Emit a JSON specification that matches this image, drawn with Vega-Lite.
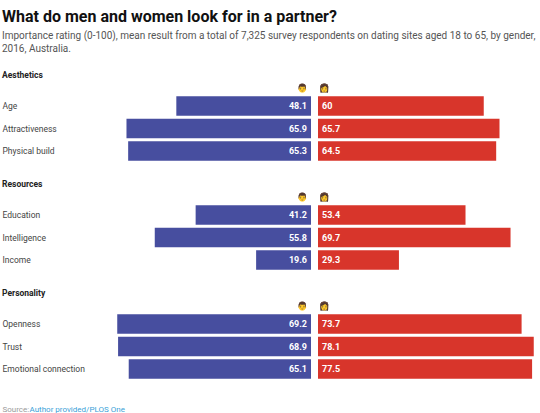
{
  "$schema": "https://vega.github.io/schema/vega-lite/v6.json",
  "background": "white",
  "padding": {"left": 2, "top": 8, "right": 0, "bottom": 0},
  "title": {
    "text": "What do men and women look for in a partner?",
    "subtitle": [
      "Importance rating (0-100), mean result from a total of 7,325 survey respondents on dating sites aged 18 to 65, by gender,",
      "2016, Australia."
    ],
    "anchor": "start",
    "font": "Roboto",
    "fontSize": 16,
    "fontWeight": "bold",
    "color": "#111111",
    "subtitleFont": "Roboto",
    "subtitleFontSize": 10,
    "subtitleColor": "#555555",
    "subtitleLineHeight": 13.5,
    "subtitlePadding": 6,
    "offset": 17
  },
  "data": {
    "values": [
      {"section": "Aesthetics", "attribute": "Age", "gender": "Men", "value": 48.1},
      {"section": "Aesthetics", "attribute": "Age", "gender": "Women", "value": 60},
      {"section": "Aesthetics", "attribute": "Attractiveness", "gender": "Men", "value": 65.9},
      {"section": "Aesthetics", "attribute": "Attractiveness", "gender": "Women", "value": 65.7},
      {"section": "Aesthetics", "attribute": "Physical build", "gender": "Men", "value": 65.3},
      {"section": "Aesthetics", "attribute": "Physical build", "gender": "Women", "value": 64.5},
      {"section": "Resources", "attribute": "Education", "gender": "Men", "value": 41.2},
      {"section": "Resources", "attribute": "Education", "gender": "Women", "value": 53.4},
      {"section": "Resources", "attribute": "Intelligence", "gender": "Men", "value": 55.8},
      {"section": "Resources", "attribute": "Intelligence", "gender": "Women", "value": 69.7},
      {"section": "Resources", "attribute": "Income", "gender": "Men", "value": 19.6},
      {"section": "Resources", "attribute": "Income", "gender": "Women", "value": 29.3},
      {"section": "Personality", "attribute": "Openness", "gender": "Men", "value": 69.2},
      {"section": "Personality", "attribute": "Openness", "gender": "Women", "value": 73.7},
      {"section": "Personality", "attribute": "Trust", "gender": "Men", "value": 68.9},
      {"section": "Personality", "attribute": "Trust", "gender": "Women", "value": 78.1},
      {"section": "Personality", "attribute": "Emotional connection", "gender": "Men", "value": 65.1},
      {"section": "Personality", "attribute": "Emotional connection", "gender": "Women", "value": 77.5}
    ]
  },
  "vconcat": [
    {
      "title": {"text": "Aesthetics", "offset": 4},
      "spacing": 7,
      "hconcat": [
        {
          "width": 196, "height": 67,
          "title": {"text": "👨", "anchor": "end", "dx": -3},
          "transform": [{"filter": "datum.section === 'Aesthetics' && datum.gender === 'Men'"}],
          "encoding": {
            "y": {"field": "attribute", "type": "nominal", "sort": null, "title": null}
          },
          "layer": [
            {
              "mark": {"type": "bar", "color": "#474e9f"},
              "encoding": {"x": {"field": "value", "type": "quantitative", "scale": {"domain": [0, 70], "reverse": true}, "axis": null}}
            },
            {
              "mark": {"type": "text", "align": "right", "dx": -4, "color": "white", "fontWeight": "bold", "fontSize": 9},
              "encoding": {"x": {"datum": 0, "type": "quantitative"}, "text": {"field": "value", "type": "nominal"}}
            }
          ]
        },
        {
          "width": 221, "height": 67,
          "title": {"text": "👩", "anchor": "start", "dx": 1},
          "transform": [{"filter": "datum.section === 'Aesthetics' && datum.gender === 'Women'"}],
          "encoding": {
            "y": {"field": "attribute", "type": "nominal", "sort": null, "axis": null}
          },
          "layer": [
            {
              "mark": {"type": "bar", "color": "#d8352b"},
              "encoding": {"x": {"field": "value", "type": "quantitative", "scale": {"domain": [0, 79]}, "axis": null}}
            },
            {
              "mark": {"type": "text", "align": "left", "dx": 4, "color": "white", "fontWeight": "bold", "fontSize": 9},
              "encoding": {"x": {"datum": 0, "type": "quantitative"}, "text": {"field": "value", "type": "nominal"}}
            }
          ]
        }
      ]
    },
    {
      "title": {"text": "Resources", "offset": 4},
      "spacing": 7,
      "hconcat": [
        {
          "width": 196, "height": 67,
          "title": {"text": "👨", "anchor": "end", "dx": -3},
          "transform": [{"filter": "datum.section === 'Resources' && datum.gender === 'Men'"}],
          "encoding": {
            "y": {"field": "attribute", "type": "nominal", "sort": null, "title": null}
          },
          "layer": [
            {
              "mark": {"type": "bar", "color": "#474e9f"},
              "encoding": {"x": {"field": "value", "type": "quantitative", "scale": {"domain": [0, 70], "reverse": true}, "axis": null}}
            },
            {
              "mark": {"type": "text", "align": "right", "dx": -4, "color": "white", "fontWeight": "bold", "fontSize": 9},
              "encoding": {"x": {"datum": 0, "type": "quantitative"}, "text": {"field": "value", "type": "nominal"}}
            }
          ]
        },
        {
          "width": 221, "height": 67,
          "title": {"text": "👩", "anchor": "start", "dx": 1},
          "transform": [{"filter": "datum.section === 'Resources' && datum.gender === 'Women'"}],
          "encoding": {
            "y": {"field": "attribute", "type": "nominal", "sort": null, "axis": null}
          },
          "layer": [
            {
              "mark": {"type": "bar", "color": "#d8352b"},
              "encoding": {"x": {"field": "value", "type": "quantitative", "scale": {"domain": [0, 79]}, "axis": null}}
            },
            {
              "mark": {"type": "text", "align": "left", "dx": 4, "color": "white", "fontWeight": "bold", "fontSize": 9},
              "encoding": {"x": {"datum": 0, "type": "quantitative"}, "text": {"field": "value", "type": "nominal"}}
            }
          ]
        }
      ]
    },
    {
      "title": {"text": "Personality", "offset": 4},
      "spacing": 7,
      "hconcat": [
        {
          "width": 196, "height": 67,
          "title": {"text": "👨", "anchor": "end", "dx": -3},
          "transform": [{"filter": "datum.section === 'Personality' && datum.gender === 'Men'"}],
          "encoding": {
            "y": {"field": "attribute", "type": "nominal", "sort": null, "title": "Source:",
              "axis": {"titleAngle": 0, "titleX": -113, "titleY": 96, "titleAlign": "left", "titleBaseline": "middle", "titleAnchor": null, "titleFontWeight": "normal", "titleFontSize": 8, "titleColor": "#9a9a9a", "titleFont": "Roboto"}}
          },
          "layer": [
            {
              "mark": {"type": "bar", "color": "#474e9f"},
              "encoding": {"x": {"field": "value", "type": "quantitative", "scale": {"domain": [0, 70], "reverse": true},
                "axis": {"labels": false, "ticks": false, "domain": false, "grid": false, "title": "Author provided/PLOS One", "titleX": -86, "titleY": 29, "titleAlign": "left", "titleBaseline": "middle", "titleAnchor": null, "titleFontWeight": "normal", "titleFontSize": 8, "titleColor": "#3a9fd8", "titleFont": "Roboto"}}}
            },
            {
              "mark": {"type": "text", "align": "right", "dx": -4, "color": "white", "fontWeight": "bold", "fontSize": 9},
              "encoding": {"x": {"datum": 0, "type": "quantitative"}, "text": {"field": "value", "type": "nominal"}}
            }
          ]
        },
        {
          "width": 221, "height": 67,
          "title": {"text": "👩", "anchor": "start", "dx": 1},
          "transform": [{"filter": "datum.section === 'Personality' && datum.gender === 'Women'"}],
          "encoding": {
            "y": {"field": "attribute", "type": "nominal", "sort": null, "axis": null}
          },
          "layer": [
            {
              "mark": {"type": "bar", "color": "#d8352b"},
              "encoding": {"x": {"field": "value", "type": "quantitative", "scale": {"domain": [0, 79]}, "axis": null}}
            },
            {
              "mark": {"type": "text", "align": "left", "dx": 4, "color": "white", "fontWeight": "bold", "fontSize": 9},
              "encoding": {"x": {"datum": 0, "type": "quantitative"}, "text": {"field": "value", "type": "nominal"}}
            }
          ]
        }
      ]
    }
  ],
  "spacing": 18,
  "config": {
    "font": "Roboto",
    "view": {"stroke": null},
    "scale": {"bandPaddingInner": 0.133, "bandPaddingOuter": 0.05},
    "axisY": {
      "labelAlign": "left",
      "labelPadding": 113,
      "ticks": false,
      "domain": false,
      "grid": false,
      "labelFont": "Roboto",
      "labelFontSize": 8.5,
      "labelColor": "#444444"
    },
    "title": {
      "anchor": "start",
      "font": "Roboto",
      "fontSize": 8.5,
      "fontWeight": "bold",
      "color": "#222222",
      "offset": 3
    },
    "concat": {"spacing": 7}
  }
}
